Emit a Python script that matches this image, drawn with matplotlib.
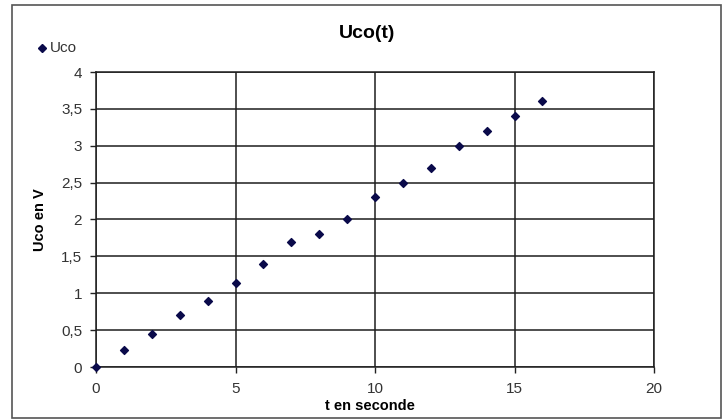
import matplotlib
matplotlib.use("Agg")
import matplotlib.pyplot as plt
from matplotlib.patches import Rectangle
from matplotlib.ticker import FuncFormatter

# mesures
t_values = [0, 1, 2, 3, 4, 5, 6, 7, 8, 9, 10, 11, 12, 13, 14, 15, 16]
uco_values = [0, 0.23, 0.45, 0.7, 0.9, 1.14, 1.4, 1.7, 1.8, 2.0,
              2.3, 2.5, 2.7, 3.0, 3.2, 3.4, 3.6]
x_ticks = [0, 5, 10, 15, 20]
y_ticks = [0, 0.5, 1, 1.5, 2, 2.5, 3, 3.5, 4]

plt.rcParams['font.family'] = ['Liberation Sans', 'DejaVu Sans']

fig = plt.figure(figsize=(7.26, 4.19), dpi=100)
fig.patches.append(Rectangle((12 / 726, 1 - 418 / 419), 709 / 726, 413 / 419,
                             transform=fig.transFigure, fill=False,
                             edgecolor='#555555', linewidth=1.2))

ax = fig.add_axes([96 / 726, 1 - 367 / 419, 558 / 726, 295 / 419])
ax.scatter(t_values, uco_values, marker='D', s=16, color='#0a0a4a',
           zorder=3, clip_on=False, label='Uco')
ax.set_xlim(0, 20)
ax.set_ylim(0, 4)
ax.set_xticks(x_ticks)
ax.set_yticks(y_ticks)
ax.yaxis.set_major_formatter(FuncFormatter(lambda v, p: ('%g' % v).replace('.', ',')))
ax.grid(True, color='#1e1e1e', linewidth=1.1)
for s in ax.spines.values():
    s.set_color('#1e1e1e')
    s.set_linewidth(1.1)
ax.tick_params(direction='out', length=4, width=1, colors='#222222',
               labelsize=11, labelcolor='#333333')
ax.tick_params(axis='x', pad=7)
ax.tick_params(axis='y', pad=6)

fig.text(367 / 726, 1 - 33 / 419, 'Uco(t)', ha='center', va='center',
         fontsize=14, fontweight='bold')
fig.text(370 / 726, 1 - 406 / 419, 't en seconde', ha='center', va='center',
         fontsize=10.5, fontweight='bold')
fig.text(40 / 726, 1 - 220 / 419, 'Uco en V', ha='center', va='center',
         rotation=90, fontsize=10.5, fontweight='bold')

# legende
fig.text(50 / 726, 1 - 48 / 419, 'Uco', ha='left', va='center',
         fontsize=11, color='#333333')
fig.lines.append(plt.Line2D([42 / 726], [1 - 48 / 419], marker='D',
                            markersize=4, color='#0a0a4a',
                            transform=fig.transFigure))

fig.savefig('out.png', dpi=100)
